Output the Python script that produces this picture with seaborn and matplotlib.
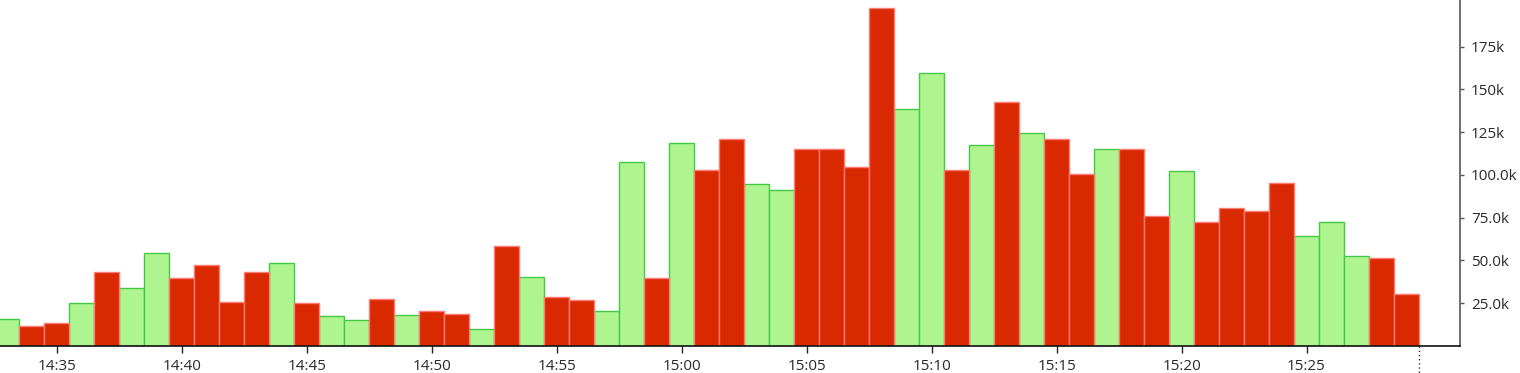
import numpy as np
import pandas as pd
import seaborn as sns
import matplotlib.pyplot as plt
from matplotlib.ticker import FuncFormatter, FixedLocator
import matplotlib.transforms as mtransforms

# one bar per minute, 14:33 .. 15:29
start_minute = 14 * 60 + 33
volumes = [15.8, 11.7, 13.7, 25.0, 43.1, 34.0, 54.5, 39.8, 47.2, 25.8,
           43.1, 48.8, 25.2, 17.6, 15.0, 27.5, 18.3, 20.3, 18.7, 10.1,
           58.6, 40.6, 28.5, 26.7, 20.7, 107.8, 39.8, 118.5, 103.1, 121.3,
           94.7, 91.4, 115.2, 115.2, 104.6, 197.6, 138.3, 159.5, 103.1, 117.8,
           142.5, 124.4, 121.3, 100.5, 115.2, 115.2, 75.9, 102.1, 72.4, 80.9,
           79.1, 95.5, 64.2, 72.4, 52.7, 51.3, 30.6]  # thousands
sides = ["up", "down", "down", "up", "down", "up", "up", "down", "down", "down",
         "down", "up", "down", "up", "up", "down", "up", "down", "down", "up",
         "down", "up", "down", "down", "up", "up", "down", "up", "down", "down",
         "up", "up", "down", "down", "down", "down", "up", "up", "down", "up",
         "down", "up", "down", "down", "up", "down", "down", "up", "down", "down",
         "down", "down", "up", "up", "up", "down", "down"]
ytick_vals = [25, 50, 75, 100, 125, 150, 175]
ytick_labels = ["25.0k", "50.0k", "75.0k", "100.0k", "125k", "150k", "175k"]

df = pd.DataFrame({
    "minute": start_minute + np.arange(len(volumes)),
    "volume": np.array(volumes) * 1000,
    "side": sides,
})

fill = {"up": "#aef58f", "down": "#d92900"}
edge = {"up": "#45c845", "down": "#ff7a72"}

plt.rcParams["font.family"] = ["Open Sans", "DejaVu Sans"]
fig = plt.figure(figsize=(15.2, 3.73), dpi=100)
ax = fig.add_axes([0, 27 / 373, 1460 / 1520, 346 / 373])

sns.barplot(data=df, x="minute", y="volume", hue="side", hue_order=["up", "down"],
            palette=fill, native_scale=True, width=1, dodge=False,
            saturation=1, legend=False, ax=ax)
for cont, key in zip(ax.containers, ["up", "down"]):
    for bar in cont:
        bar.set_edgecolor(edge[key])
        bar.set_linewidth(1.0)

ax.set_xlim(start_minute - 0.27, start_minute + 58.14)
ax.set_ylim(0, 202300)

# x ticks every 5 minutes
xt = [m for m in df["minute"] if m % 5 == 0]
ax.xaxis.set_major_locator(FixedLocator(xt))
ax.xaxis.set_major_formatter(FuncFormatter(lambda v, p: f"{int(v) // 60}:{int(v) % 60:02d}"))
ax.yaxis.tick_right()
ax.set_yticks([v * 1000 for v in ytick_vals])
ax.set_yticklabels(ytick_labels)
ax.tick_params(axis="x", length=5, width=1, color="#222", labelsize=11, labelcolor="#2a2a2a", pad=4)
ax.tick_params(axis="y", length=3, width=1, color="#555", labelsize=11, labelcolor="#2a2a2a", pad=5)
ax.set_xlabel("")
ax.set_ylabel("")

for s in ["left", "top"]:
    ax.spines[s].set_visible(False)
ax.spines["bottom"].set_color("#111")
ax.spines["right"].set_color("#555")
ax.spines["bottom"].set_linewidth(1.2)
ax.spines["right"].set_linewidth(1.2)

# dotted marker at the end of the last bar
end_x = df["minute"].iloc[-1] + 0.5
trans = mtransforms.blended_transform_factory(ax.transData, ax.transAxes)
ax.plot([end_x, end_x], [0, -27 / 346], transform=trans, color="#333",
        linestyle=(0, (1, 2)), linewidth=1, clip_on=False)

ax.set_facecolor("white")
fig.savefig("out.png", dpi=100)
